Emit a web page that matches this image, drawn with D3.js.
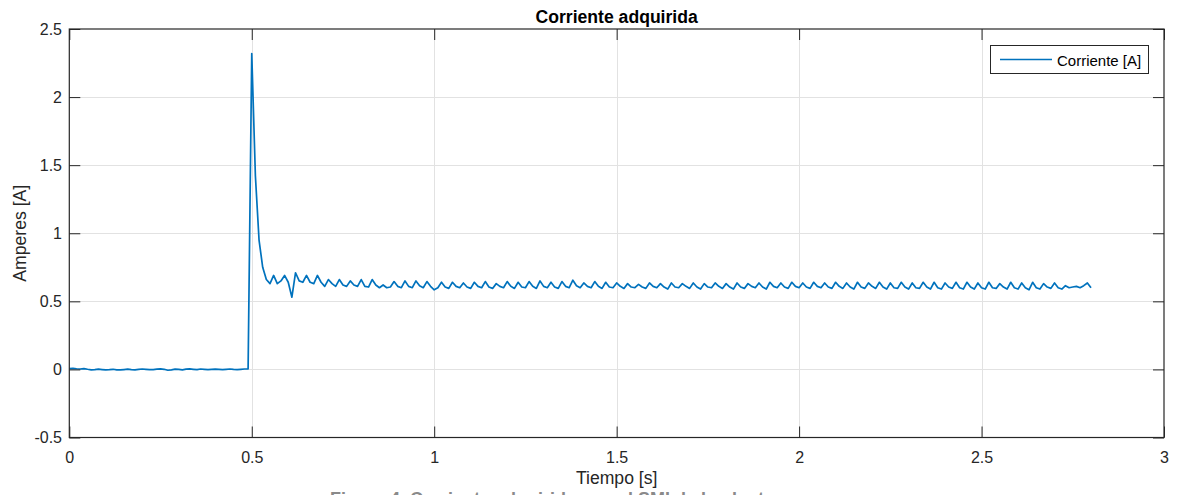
<!DOCTYPE html>
<html>
<head>
<meta charset="utf-8">
<script src="https://cdn.jsdelivr.net/npm/d3@7"></script>
<style>
  body { margin: 0; background: #fff; }
  svg text { font-family: "Liberation Sans", Arial, Helvetica, sans-serif; }
</style>
</head>
<body>
<div id="main"></div>
<script>
/// Data ///
// sample step of the acquisition (s)
var paso = 0.01;

// 0 - 0.49 s : motor stopped
var corrienteReposo = [
    0.006, 0.008, 0.005, 0.003, 0.006, 0.001, -0.003, -0.002, 0.002, -0.001,
    -0.004, -0.002, 0.001, -0.003, -0.004, -0.001, 0.002, -0.002, -0.003, 0.000,
    0.003, 0.001, -0.002, -0.001, 0.002, 0.004, 0.001, -0.006, -0.003, 0.002,
    0.000, -0.003, 0.002, 0.004, 0.001, -0.002, 0.003, 0.001, -0.002, 0.000,
    0.002, 0.000, -0.002, 0.001, 0.003, 0.000, -0.001, 0.001, 0.003, 0.004
];

// 0.50 - 0.83 s : start peak
var corrienteArranque = [
    2.32, 1.42, 0.95, 0.75, 0.66, 0.63, 0.69, 0.63, 0.65, 0.69,
    0.64, 0.53, 0.71, 0.65, 0.64, 0.69, 0.64, 0.63, 0.69, 0.64,
    0.61, 0.66, 0.63, 0.61, 0.66, 0.62, 0.61, 0.65, 0.62, 0.61,
    0.66, 0.61, 0.605, 0.66
];

// 0.84 - 2.80 s : steady state
var corrienteRegimen = [
    0.62, 0.60, 0.62, 0.60, 0.605, 0.645, 0.61, 0.60, 0.65, 0.61,
    0.60, 0.65, 0.615, 0.60, 0.645, 0.61, 0.585, 0.60, 0.64,
    0.605, 0.595, 0.64,  0.61, 0.60, 0.635,  0.605, 0.595, 0.64,  0.61, 0.60, 0.645,
    0.605, 0.595, 0.63,  0.61, 0.60, 0.645,  0.61, 0.595, 0.64,  0.605, 0.60, 0.645,
    0.61, 0.595, 0.65,  0.61, 0.60, 0.64,  0.605, 0.595, 0.645,  0.61, 0.60, 0.655,
    0.615, 0.60, 0.635,  0.61, 0.60, 0.645,  0.61, 0.595, 0.64,  0.605, 0.60, 0.635,
    0.61, 0.595, 0.63,  0.605, 0.60, 0.625,  0.605, 0.595, 0.635,  0.61, 0.60, 0.63,
    0.605, 0.59, 0.635,  0.605, 0.60, 0.63,  0.61, 0.595, 0.635,  0.605, 0.59, 0.63,
    0.605, 0.60, 0.635,  0.61, 0.595, 0.63,  0.605, 0.59, 0.635,  0.605, 0.595, 0.63,
    0.61, 0.60, 0.635,  0.605, 0.59, 0.64,  0.61, 0.60, 0.635,  0.605, 0.595, 0.64,
    0.61, 0.60, 0.635,  0.605, 0.595, 0.64,  0.61, 0.60, 0.635,  0.605, 0.595, 0.64,
    0.61, 0.595, 0.635,  0.605, 0.59, 0.64,  0.605, 0.595, 0.635,  0.61, 0.595, 0.64,
    0.605, 0.59, 0.635,  0.60, 0.595, 0.64,  0.605, 0.59, 0.635,  0.60, 0.595, 0.64,
    0.605, 0.59, 0.64,  0.60, 0.59, 0.635,  0.605, 0.595, 0.64,  0.60, 0.59, 0.64,
    0.605, 0.59, 0.635,  0.60, 0.59, 0.64,  0.60, 0.595, 0.63,  0.605, 0.59, 0.64,
    0.60, 0.59, 0.635,  0.60, 0.585, 0.64,  0.60, 0.59, 0.63,  0.605, 0.595, 0.635,
    0.60, 0.59, 0.615,  0.60, 0.605, 0.61,  0.60, 0.615, 0.635,
    0.60
];

var xTicks = [0, 0.5, 1, 1.5, 2, 2.5, 3];
var xTickLabels = ['0', '0.5', '1', '1.5', '2', '2.5', '3'];
var yTicks = [-0.5, 0, 0.5, 1, 1.5, 2, 2.5];
var yTickLabels = ['-0.5', '0', '0.5', '1', '1.5', '2', '2.5'];

var titulo = 'Corriente adquirida';
var etiquetaX = 'Tiempo [s]';
var etiquetaY = 'Amperes [A]';
var leyenda = 'Corriente [A]';
var pie = 'Figura 4. Corriente adquirida con el SMI de la planta';

// one point per sample
var corriente = corrienteReposo.concat(corrienteArranque, corrienteRegimen);
var puntos = corriente.map((v, i) => ({ t: i * paso, v: v }));

/// Layout ///
const w = 1178;
const h = 495;
const mLeft = 69.3, mRight = 1164, mTop = 29, mBottom = 437.5;
const tickLen = 11;
const ink = '#262626';

const svg = d3.select('#main')
            .append('svg')
            .attr('width', w)
            .attr('height', h);

const x = d3.scaleLinear().domain([0, 3]).range([mLeft, mRight]);
const y = d3.scaleLinear().domain([-0.5, 2.5]).range([mBottom, mTop]);

// grid lines
const grid = svg.append('g').attr('class', 'grid');
grid.selectAll('.vgrid')
    .data(xTicks.slice(1, -1))
    .enter()
    .append('line')
    .attr('x1', d => Math.round(x(d)) + 0.5)
    .attr('x2', d => Math.round(x(d)) + 0.5)
    .attr('y1', mTop)
    .attr('y2', mBottom)
    .attr('stroke', '#e2e2e2');
grid.selectAll('.hgrid')
    .data(yTicks.slice(1, -1))
    .enter()
    .append('line')
    .attr('x1', mLeft)
    .attr('x2', mRight)
    .attr('y1', d => Math.round(y(d)) + 0.5)
    .attr('y2', d => Math.round(y(d)) + 0.5)
    .attr('stroke', '#e2e2e2');

// data line
const linea = d3.line()
                .x(d => x(d.t))
                .y(d => y(d.v));

svg.append('path')
    .datum(puntos)
    .attr('d', linea)
    .attr('fill', 'none')
    .attr('stroke', '#0072BD')
    .attr('stroke-width', 1.7)
    .attr('stroke-linejoin', 'round');

/// Axes (MATLAB style box, ticks inside on all sides) ///
function styleAxis(g) {
    g.select('.domain').remove();
    g.selectAll('.tick line').attr('stroke', ink);
    g.selectAll('.tick text')
        .attr('fill', ink)
        .style('font-size', '16px');
}

svg.append('g')
    .attr('transform', `translate(0,${mBottom})`)
    .call(d3.axisBottom(x).tickValues(xTicks)
            .tickFormat((d, i) => xTickLabels[i])
            .tickSize(-tickLen).tickPadding(14.5))
    .call(styleAxis);

svg.append('g')
    .attr('transform', `translate(0,${mTop})`)
    .call(d3.axisTop(x).tickValues(xTicks).tickFormat('').tickSize(-tickLen))
    .call(styleAxis);

svg.append('g')
    .attr('transform', `translate(${mLeft},0)`)
    .call(d3.axisLeft(y).tickValues(yTicks)
            .tickFormat((d, i) => yTickLabels[i])
            .tickSize(-tickLen).tickPadding(7.3))
    .call(styleAxis);

svg.append('g')
    .attr('transform', `translate(${mRight},0)`)
    .call(d3.axisRight(y).tickValues(yTicks).tickFormat('').tickSize(-tickLen))
    .call(styleAxis);

// box
svg.append('rect')
    .attr('x', mLeft)
    .attr('y', mTop)
    .attr('width', mRight - mLeft)
    .attr('height', mBottom - mTop)
    .attr('fill', 'none')
    .attr('stroke', ink)
    .attr('stroke-width', 1.2);

/// Texts ///
svg.append('text')
    .attr('x', (mLeft + mRight) / 2)
    .attr('y', 22.5)
    .attr('text-anchor', 'middle')
    .style('font-size', '17.6px')
    .style('font-weight', 'bold')
    .attr('fill', '#000')
    .text(titulo);

svg.append('text')
    .attr('x', (mLeft + mRight) / 2)
    .attr('y', 484)
    .attr('text-anchor', 'middle')
    .style('font-size', '17.6px')
    .attr('fill', ink)
    .text(etiquetaX);

svg.append('text')
    .attr('transform', `translate(26,${(mTop + mBottom) / 2}) rotate(-90)`)
    .attr('text-anchor', 'middle')
    .style('font-size', '17.6px')
    .attr('fill', ink)
    .text(etiquetaY);

// caption of the original document, cut by the bottom edge as in the source picture
svg.append('text')
    .attr('x', 330)
    .attr('y', 505)
    .style('font-size', '18px')
    .style('font-weight', 'bold')
    .attr('fill', '#8a8a8a')
    .text(pie);

/// Legend ///
const leg = svg.append('g').attr('id', 'legend');
leg.append('rect')
    .attr('x', 990.5)
    .attr('y', 45.5)
    .attr('width', 158)
    .attr('height', 28)
    .attr('fill', '#fff')
    .attr('stroke', ink);
leg.append('line')
    .attr('x1', 1000)
    .attr('x2', 1052)
    .attr('y1', 59.5)
    .attr('y2', 59.5)
    .attr('stroke', '#0072BD')
    .attr('stroke-width', 1.7);
leg.append('text')
    .attr('x', 1057)
    .attr('y', 65.5)
    .style('font-size', '15px')
    .attr('fill', '#000')
    .text(leyenda);
</script>
</body>
</html>
